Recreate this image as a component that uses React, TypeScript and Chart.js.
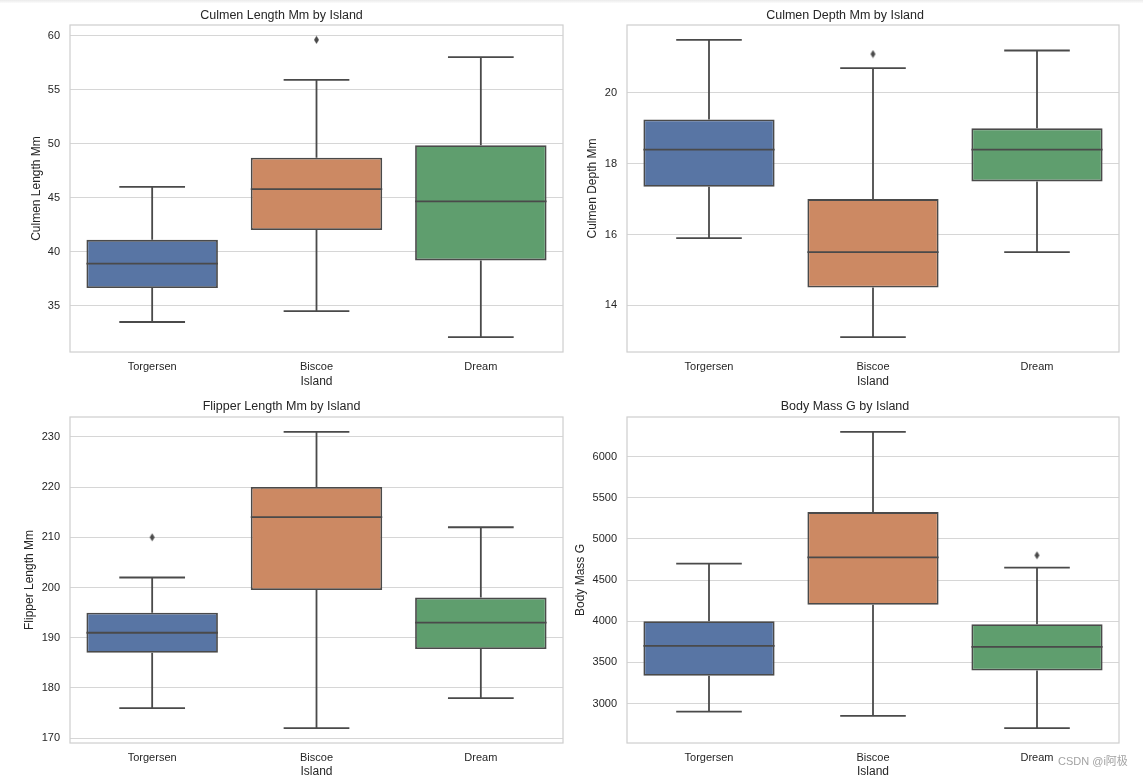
import React, { useEffect, useRef } from "react";
import { Chart, registerables } from "chart.js";

Chart.register(...registerables);

// ---------- data ----------
const islands = ["Torgersen", "Biscoe", "Dream"];
const boxColors = ["#5875A4", "#CC8963", "#5F9E6E"];
const xAxisLabel = "Island";

// Culmen length
const culmenLengthLow = [33.5, 34.5, 32.1];
const culmenLengthQ1 = [36.65, 42.0, 39.2];
const culmenLengthMedian = [38.9, 45.8, 44.65];
const culmenLengthQ3 = [41.1, 48.7, 49.85];
const culmenLengthHigh = [46.0, 55.9, 58.0];
const culmenLengthOutliers = [null, 59.6, null];
const culmenLengthTicks = [35, 40, 45, 50, 55, 60];
const culmenLengthRange = [30.725, 60.975];

// Culmen depth
const culmenDepthLow = [15.9, 13.1, 15.5];
const culmenDepthQ1 = [17.35, 14.5, 17.5];
const culmenDepthMedian = [18.4, 15.5, 18.4];
const culmenDepthQ3 = [19.25, 17.0, 19.0];
const culmenDepthHigh = [21.5, 20.7, 21.2];
const culmenDepthOutliers = [null, 21.1, null];
const culmenDepthTicks = [14, 16, 18, 20];
const culmenDepthRange = [12.68, 21.92];

// Flipper length
const flipperLow = [176, 172, 178];
const flipperQ1 = [187, 199.5, 187.75];
const flipperMedian = [191, 214, 193];
const flipperQ3 = [195, 220, 198];
const flipperHigh = [202, 231, 212];
const flipperOutliers = [210, null, null];
const flipperTicks = [170, 180, 190, 200, 210, 220, 230];
const flipperRange = [169.05, 233.95];

// Body mass
const bodyMassLow = [2900, 2850, 2700];
const bodyMassQ1 = [3337.5, 4200, 3400];
const bodyMassMedian = [3700, 4775, 3687.5];
const bodyMassQ3 = [4000, 5325, 3962.5];
const bodyMassHigh = [4700, 6300, 4650];
const bodyMassOutliers = [null, null, 4800];
const bodyMassTicks = [3000, 3500, 4000, 4500, 5000, 5500, 6000];
const bodyMassRange = [2520, 6480];

// ---------- styles ----------
const FONT = "'Liberation Sans', Arial, sans-serif";
const TEXT = "#262626";
const LINE_GRAY = "#4a4a4a";
const GRID = "#d6d6d6";
const SPINE = "#d0d0d0";
const LW = 1.8;

function makeDiamond(): HTMLCanvasElement {
  const c = document.createElement("canvas");
  c.width = 7;
  c.height = 9;
  const g = c.getContext("2d")!;
  g.fillStyle = LINE_GRAY;
  g.beginPath();
  g.moveTo(3.5, 0.5);
  g.lineTo(6, 4.5);
  g.lineTo(3.5, 8.5);
  g.lineTo(1, 4.5);
  g.closePath();
  g.fill();
  return c;
}

type PanelProps = {
  left: number;
  top: number;
  width: number;
  height: number;
  title: string;
  yLabel: string;
  low: number[];
  q1: number[];
  median: number[];
  q3: number[];
  high: number[];
  outliers: (number | null)[];
  ticks: number[];
  range: number[];
  yAxisWidth: number;
  yTitlePad: number;
  padRight: number;
  titlePadTop: number;
  titlePadBottom: number;
  xAxisHeight: number;
  xTitlePadBottom: number;
};

function Panel(p: PanelProps) {
  const ref = useRef<HTMLCanvasElement | null>(null);
  useEffect(() => {
    if (!ref.current) return;
    const boxPlugin = {
      id: "boxExtras",
      beforeDatasetsDraw(chart: any) {
        const { ctx, chartArea } = chart;
        ctx.save();
        ctx.strokeStyle = SPINE;
        ctx.lineWidth = 1.25;
        ctx.strokeRect(
          chartArea.left,
          chartArea.top,
          chartArea.right - chartArea.left,
          chartArea.bottom - chartArea.top
        );
        ctx.restore();
      },
      afterDatasetsDraw(chart: any) {
        const { ctx } = chart;
        const xs = chart.scales.x;
        const ys = chart.scales.y;
        const step = xs.getPixelForValue(1) - xs.getPixelForValue(0);
        ctx.save();
        ctx.strokeStyle = LINE_GRAY;
        ctx.lineWidth = LW;
        ctx.lineCap = "butt";
        p.low.forEach((_, i) => {
          const cx = xs.getPixelForValue(i);
          const capHalf = step * 0.2;
          const boxHalf = step * 0.4;
          const yLow = ys.getPixelForValue(p.low[i]);
          const yQ1 = ys.getPixelForValue(p.q1[i]);
          const yMed = ys.getPixelForValue(p.median[i]);
          const yQ3 = ys.getPixelForValue(p.q3[i]);
          const yHigh = ys.getPixelForValue(p.high[i]);
          ctx.beginPath();
          // whiskers
          ctx.moveTo(cx, yQ3);
          ctx.lineTo(cx, yHigh);
          ctx.moveTo(cx, yQ1);
          ctx.lineTo(cx, yLow);
          // caps
          ctx.moveTo(cx - capHalf, yHigh);
          ctx.lineTo(cx + capHalf, yHigh);
          ctx.moveTo(cx - capHalf, yLow);
          ctx.lineTo(cx + capHalf, yLow);
          // median
          ctx.moveTo(cx - boxHalf, yMed);
          ctx.lineTo(cx + boxHalf, yMed);
          ctx.stroke();
        });
        ctx.restore();
      },
    };

    const chart = new Chart(ref.current, {
      type: "bar",
      data: {
        labels: islands,
        datasets: [
          {
            type: "line",
            data: p.outliers as any,
            showLine: false,
            pointStyle: makeDiamond() as any,
            pointRadius: 4,
            order: 0,
          } as any,
          {
            type: "bar",
            data: islands.map((_, i) => [p.q1[i], p.q3[i]]) as any,
            backgroundColor: boxColors,
            borderColor: LINE_GRAY,
            borderWidth: LW,
            borderSkipped: false,
            barPercentage: 0.8,
            categoryPercentage: 1,
            order: 1,
          } as any,
        ],
      },
      options: {
        responsive: false,
        animation: false,
        events: [],
        layout: { padding: { left: 0, right: p.padRight, top: 0, bottom: 0 } },
        plugins: {
          legend: { display: false },
          tooltip: { enabled: false },
          title: {
            display: true,
            text: p.title,
            color: TEXT,
            font: { family: FONT, size: 12.5, weight: "normal" },
            padding: { top: p.titlePadTop, bottom: p.titlePadBottom },
          },
        },
        scales: {
          x: {
            type: "category",
            offset: true,
            grid: { display: false, drawTicks: false },
            border: { display: false },
            ticks: { color: TEXT, font: { family: FONT, size: 11 }, padding: 8.5 },
            title: {
              display: true,
              text: xAxisLabel,
              color: TEXT,
              font: { family: FONT, size: 12 },
              padding: { top: 0, bottom: p.xTitlePadBottom },
            },
            afterFit: (s: any) => {
              s.height = p.xAxisHeight;
            },
          },
          y: {
            type: "linear",
            min: p.range[0],
            max: p.range[1],
            grid: { color: GRID, lineWidth: 1, drawTicks: false },
            border: { display: false },
            ticks: {
              color: TEXT,
              font: { family: FONT, size: 11 },
              padding: 10,
              callback: (v: any) => String(v),
            },
            title: {
              display: true,
              text: p.yLabel,
              color: TEXT,
              font: { family: FONT, size: 12 },
              padding: { top: p.yTitlePad, bottom: 0 },
            },
            afterBuildTicks: (s: any) => {
              s.ticks = p.ticks.map((v) => ({ value: v }));
            },
            afterFit: (s: any) => {
              s.width = p.yAxisWidth;
            },
          },
        },
      } as any,
      plugins: [boxPlugin as any],
    });
    return () => chart.destroy();
  }, []);
  return (
    <canvas
      ref={ref}
      width={p.width}
      height={p.height}
      style={{ position: "absolute", left: p.left, top: p.top, width: p.width, height: p.height }}
    />
  );
}

export default function App() {
  return (
    <div
      style={{
        position: "absolute",
        left: 0,
        top: 0,
        width: 1143,
        height: 776,
        overflow: "hidden",
        background: "#ffffff",
      }}
    >
      <div
        style={{
          position: "absolute",
          left: 0,
          top: 0,
          width: 1143,
          height: 3,
          background: "linear-gradient(#ebebeb, #fbfbfb)",
        }}
      />
      <Panel
        left={0}
        top={0}
        width={571}
        height={390}
        title="Culmen Length Mm by Island"
        yLabel="Culmen Length Mm"
        low={culmenLengthLow}
        q1={culmenLengthQ1}
        median={culmenLengthMedian}
        q3={culmenLengthQ3}
        high={culmenLengthHigh}
        outliers={culmenLengthOutliers}
        ticks={culmenLengthTicks}
        range={culmenLengthRange}
        yAxisWidth={70}
        yTitlePad={29}
        padRight={8}
        titlePadTop={8}
        titlePadBottom={2}
        xAxisHeight={38}
        xTitlePadBottom={0.8}
      />
      <Panel
        left={571}
        top={0}
        width={572}
        height={390}
        title="Culmen Depth Mm by Island"
        yLabel="Culmen Depth Mm"
        low={culmenDepthLow}
        q1={culmenDepthQ1}
        median={culmenDepthMedian}
        q3={culmenDepthQ3}
        high={culmenDepthHigh}
        outliers={culmenDepthOutliers}
        ticks={culmenDepthTicks}
        range={culmenDepthRange}
        yAxisWidth={56}
        yTitlePad={14.3}
        padRight={24}
        titlePadTop={8}
        titlePadBottom={2}
        xAxisHeight={38}
        xTitlePadBottom={0.8}
      />
      <Panel
        left={0}
        top={390}
        width={571}
        height={394}
        title="Flipper Length Mm by Island"
        yLabel="Flipper Length Mm"
        low={flipperLow}
        q1={flipperQ1}
        median={flipperMedian}
        q3={flipperQ3}
        high={flipperHigh}
        outliers={flipperOutliers}
        ticks={flipperTicks}
        range={flipperRange}
        yAxisWidth={70}
        yTitlePad={22.6}
        padRight={8}
        titlePadTop={9.5}
        titlePadBottom={2.5}
        xAxisHeight={41}
        xTitlePadBottom={4.8}
      />
      <Panel
        left={571}
        top={390}
        width={572}
        height={394}
        title="Body Mass G by Island"
        yLabel="Body Mass G"
        low={bodyMassLow}
        q1={bodyMassQ1}
        median={bodyMassMedian}
        q3={bodyMassQ3}
        high={bodyMassHigh}
        outliers={bodyMassOutliers}
        ticks={bodyMassTicks}
        range={bodyMassRange}
        yAxisWidth={56}
        yTitlePad={2.7}
        padRight={24}
        titlePadTop={9.5}
        titlePadBottom={2.5}
        xAxisHeight={41}
        xTitlePadBottom={4.8}
      />
      <div
        style={{
          position: "absolute",
          left: 1056,
          top: 752,
          paddingLeft: 2,
          fontFamily: "'Liberation Sans', 'Noto Sans CJK SC', sans-serif",
          fontSize: 11,
          lineHeight: "18px",
          color: "#a3a3a3",
          background: "rgba(255,255,255,0.85)",
          whiteSpace: "nowrap",
        }}
      >
        CSDN @i阿极
      </div>
    </div>
  );
}
